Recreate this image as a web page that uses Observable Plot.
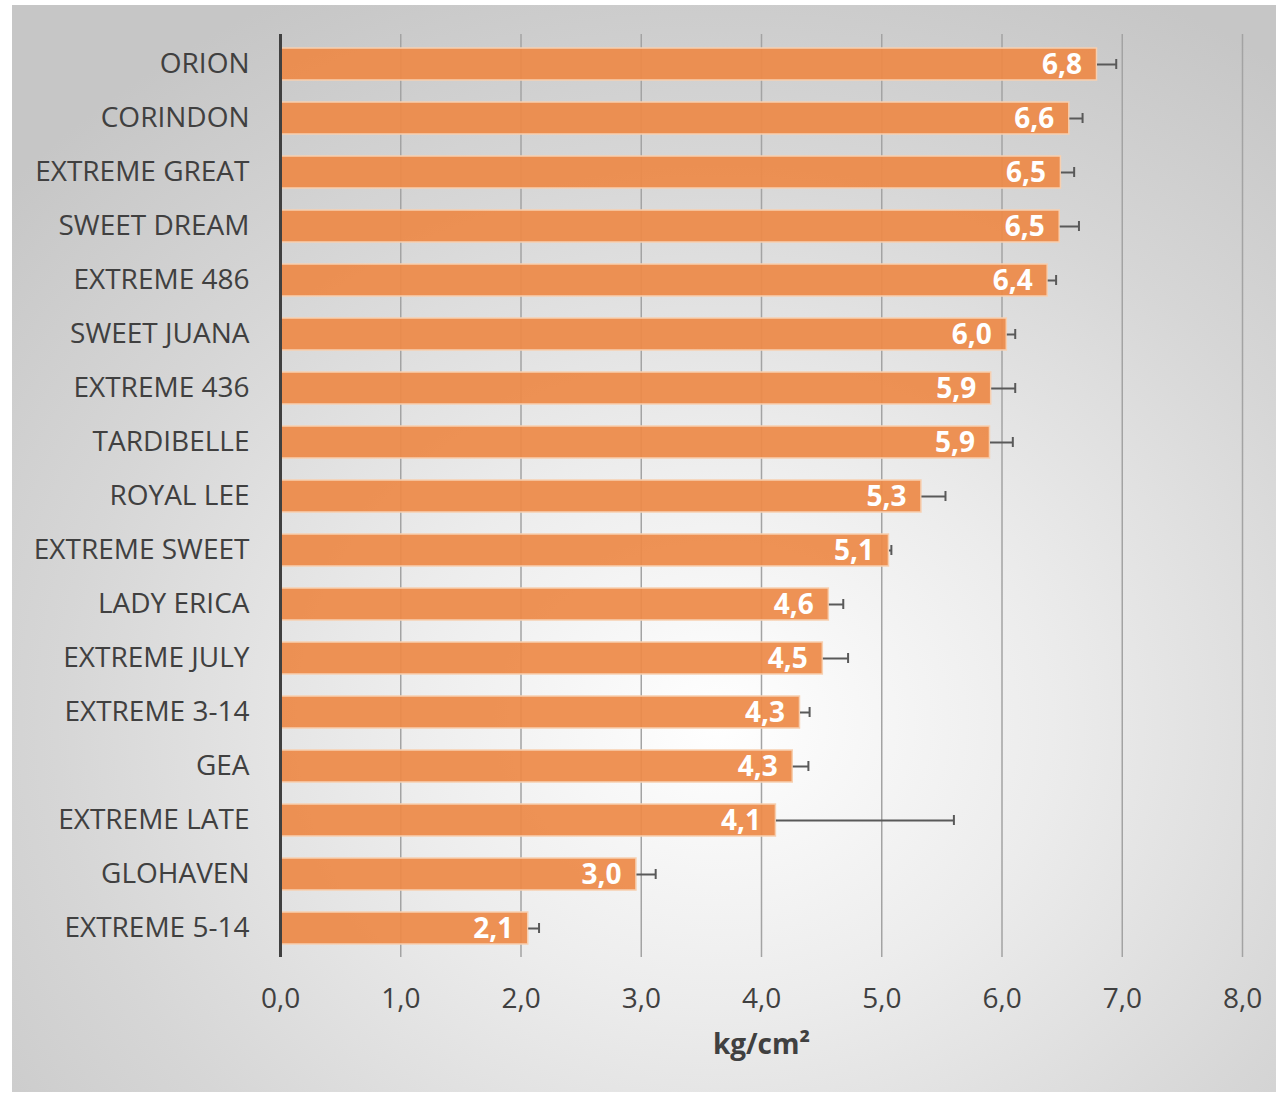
<!DOCTYPE html>
<html>
<head>
<meta charset="utf-8">
<script src="https://cdn.jsdelivr.net/npm/d3@7"></script>
<script src="https://cdn.jsdelivr.net/npm/@observablehq/plot@0.6"></script>
<style>
  html, body { margin: 0; padding: 0; background: #ffffff; }
  #panel {
    position: absolute; left: 12px; top: 5px; width: 1264px; height: 1087px;
    background: radial-gradient(ellipse 75% 75% at 56% 66%, #ffffff 0%, #ececec 35%, #d6d6d6 70%, #c6c6c6 100%);
  }
</style>
</head>
<body>
<div id="panel"></div>
<script>
const categories = ["ORION", "CORINDON", "EXTREME GREAT", "SWEET DREAM", "EXTREME 486", "SWEET JUANA", "EXTREME 436", "TARDIBELLE", "ROYAL LEE", "EXTREME SWEET", "LADY ERICA", "EXTREME JULY", "EXTREME 3-14", "GEA", "EXTREME LATE", "GLOHAVEN", "EXTREME 5-14"];
const values = [6.79, 6.56, 6.49, 6.48, 6.38, 6.04, 5.91, 5.90, 5.33, 5.06, 4.56, 4.51, 4.32, 4.26, 4.12, 2.96, 2.06];
const errors = [0.16, 0.11, 0.11, 0.16, 0.07, 0.07, 0.20, 0.19, 0.20, 0.02, 0.12, 0.21, 0.08, 0.13, 1.48, 0.16, 0.09];
const xTicks = [0, 1, 2, 3, 4, 5, 6, 7, 8];
const xLabel = "kg/cm²";

const locale = d3.formatLocale({decimal: ",", thousands: ".", grouping: [3], currency: ["", " €"]});
const fmt = locale.format(".1f");

const data = categories.map((c, i) => ({name: c, value: values[i], err: errors[i]}));

const font = "'Open Sans', 'Noto Sans', sans-serif";

const chart = Plot.plot({
  width: 1264,
  height: 1087,
  marginLeft: 268,
  marginRight: 34,
  marginTop: 29,
  marginBottom: 135,
  style: {background: "transparent", fontFamily: font, overflow: "visible"},
  x: {domain: [0, 8], ticks: xTicks},
  y: {domain: categories, paddingInner: 0.41, paddingOuter: 0.205},
  marks: [
    Plot.ruleX(xTicks.slice(1), {stroke: "#a3a3a3", strokeWidth: 1.5}),
    Plot.barX(data, {x: "value", y: "name", fill: "#ed8a48", fillOpacity: 0.93, stroke: "#f7cfb0", strokeWidth: 1.5}),
    Plot.link(data, {x1: "value", x2: d => d.value + d.err, y1: "name", y2: "name", stroke: "#595959", strokeWidth: 2}),
    Plot.tickX(data, {x: d => d.value + d.err, y: "name", stroke: "#595959", strokeWidth: 2, insetTop: 11, insetBottom: 11}),
    Plot.text(data, {x: "value", y: "name", text: d => fmt(d.value), textAnchor: "end", dx: -15, dy: 1, fill: "#ffffff", fontWeight: "bold", fontSize: 28}),
    Plot.ruleX([0], {stroke: "#404040", strokeWidth: 3}),
    Plot.axisY({tickSize: 0, tickPadding: 31, fontSize: 28, color: "#404040", label: null}),
    Plot.axisX({ticks: xTicks, tickSize: 0, tickPadding: 31, fontSize: 28, color: "#404040", tickFormat: fmt, label: null}),
    Plot.text([xLabel], {frameAnchor: "bottom", dy: 96, fontWeight: "bold", fontSize: 28, fill: "#404040"})
  ]
});
document.getElementById("panel").appendChild(chart);
</script>
</body>
</html>
